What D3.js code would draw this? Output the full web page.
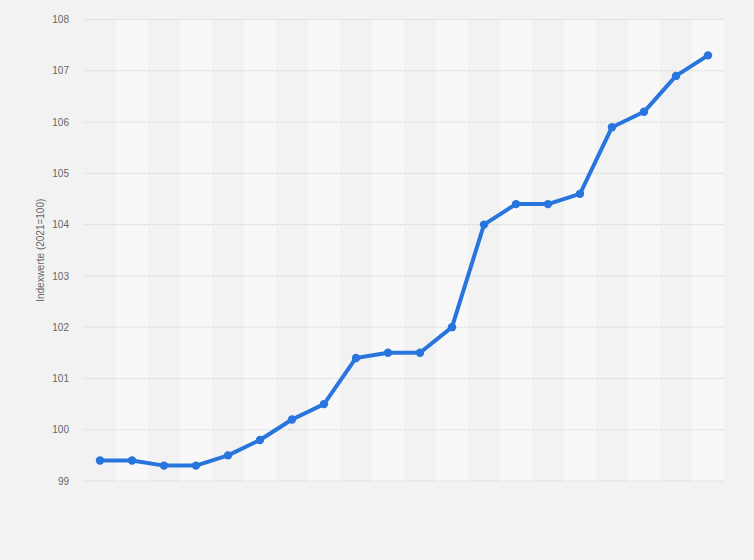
<!DOCTYPE html>
<html><head><meta charset="utf-8">
<script src="https://cdn.jsdelivr.net/npm/d3@7"></script>
<style>html,body{margin:0;padding:0;background:#f2f2f2;}svg{display:block;}</style>
</head><body>
<svg id="c" width="754" height="560"></svg>
<script>
const categories = ["1","2","3","4","5","6","7","8","9","10","11","12","13","14","15","16","17","18","19","20"];
const values = [99.4, 99.4, 99.3, 99.3, 99.5, 99.8, 100.2, 100.5, 101.4, 101.5, 101.5, 102.0, 104.0, 104.4, 104.4, 104.6, 105.9, 106.2, 106.9, 107.3];
const yTicks = [99, 100, 101, 102, 103, 104, 105, 106, 107, 108];
const yLabel = "Indexwerte (2021=100)";

const svg = d3.select("#c");
const m = {l:84, r:30, t:19.5, b:79};
const W = 754, H = 560;
const font = "'Liberation Sans', Arial, sans-serif";
const x = d3.scaleBand().domain(categories).range([m.l, W - m.r]).padding(0);
const y = d3.scaleLinear().domain([99, 108]).range([H - m.b, m.t]);

svg.append("rect").attr("width", W).attr("height", H).attr("fill", "#f2f2f2");

// alternating bands
svg.append("g").selectAll("rect").data(categories).join("rect")
  .attr("x", d => x(d)).attr("width", x.bandwidth())
  .attr("y", y(108)).attr("height", y(99) - y(108))
  .attr("fill", (d, i) => i % 2 ? "#f8f8f8" : "#f2f2f2");

// grid
svg.append("g").selectAll("line").data(yTicks).join("line")
  .attr("x1", m.l).attr("x2", W - m.r)
  .attr("y1", d => y(d)).attr("y2", d => y(d))
  .attr("stroke", "#cfcfcf").attr("stroke-width", 1).attr("stroke-dasharray", "1,1");

// y axis labels
const ax = svg.append("g").attr("transform", `translate(${m.l},0)`)
  .call(d3.axisLeft(y).tickValues(yTicks).tickSize(0).tickPadding(15).tickFormat(d3.format("d")));
ax.select(".domain").remove();
ax.selectAll("text").attr("fill", "#666").attr("font-size", 10).attr("font-family", font);

svg.append("text").attr("transform", `translate(44,${(y(99)+y(108))/2}) rotate(-90)`)
  .attr("text-anchor", "middle").attr("fill", "#666").attr("font-size", 10)
  .attr("font-family", font).text(yLabel);

const cx = (d, i) => x(categories[i]) + x.bandwidth() / 2;
const line = d3.line().x(cx).y(d => y(d));
svg.append("path").datum(values).attr("d", line).attr("fill", "none")
  .attr("stroke", "#2876dd").attr("stroke-width", 4).attr("stroke-linejoin", "round");
svg.append("g").selectAll("circle").data(values).join("circle")
  .attr("cx", cx).attr("cy", d => y(d)).attr("r", 4.2).attr("fill", "#2876dd");
</script>
</body></html>
